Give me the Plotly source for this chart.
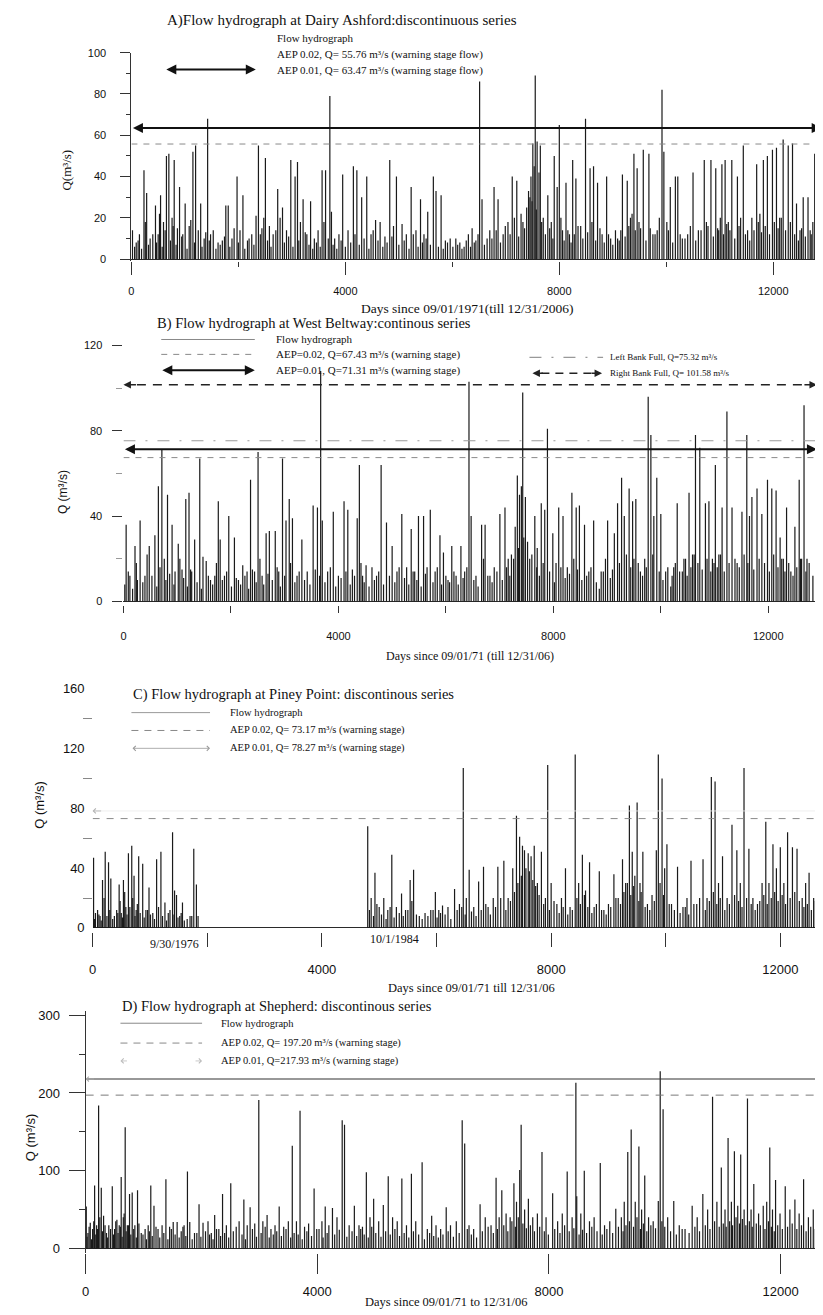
import plotly.graph_objects as go

W, H = 823, 1315
OFF = 8                       # default page margin of the html body
FW, FH = W - OFF, H - OFF     # figure size so that the page fits the window
RECORD_END = 12905            # days from 09/01/1971 to 12/31/2006

# ---------------- data (peak flows, m3/s) ----------------
A_day = [20, 90, 150, 235, 285, 350, 450, 500, 545, 600, 655, 700, 760, 800, 860, 900, 960, 1005,
         1080, 1150, 1200, 1250, 1295, 1360, 1425, 1480, 1530, 1620, 1700, 1765, 1810, 1880, 1975,
         2030, 2085, 2170, 2250, 2330, 2375, 2440, 2505, 2580, 2650, 2735, 2780, 2825, 2900, 2980,
         3060, 3105, 3160, 3210, 3280, 3350, 3420, 3490, 3565, 3630, 3710, 3740, 3800, 3880, 3950,
         4050, 4150, 4215, 4305, 4400, 4480, 4565, 4650, 4740, 4830, 4900, 4955, 5060, 5140, 5230,
         5320, 5405, 5470, 5540, 5645, 5695, 5790, 5870, 5960, 6065, 6140, 6220, 6300, 6370, 6440,
         6510, 6555, 6650, 6700, 6780, 6855, 6950, 7040, 7120, 7205, 7285, 7350, 7425, 7470, 7505,
         7530, 7550, 7585, 7620, 7645, 7700, 7785, 7850, 7905, 7960, 8000, 8060, 8125, 8190, 8250,
         8310, 8400, 8490, 8575, 8640, 8715, 8800, 8885, 8960, 9050, 9120, 9180, 9270, 9330, 9395,
         9455, 9520, 9570, 9675, 9750, 9830, 9920, 9955, 10010, 10075, 10170, 10215, 10300, 10400,
         10500, 10600, 10710, 10780, 10835, 10925, 10980, 11040, 11100, 11160, 11225, 11330, 11390,
         11440, 11520, 11600, 11690, 11750, 11815, 11890, 11985, 12060, 12120, 12185, 12280, 12360,
         12435, 12500, 12560, 12650, 12710, 12775, 12870]
A_q = [14, 8, 12, 43, 32, 10, 26, 12, 31, 18, 50, 51, 20, 48, 15, 35, 12, 27,
       16, 52, 55, 14, 27, 10, 68, 12, 14, 8, 9, 26, 26, 10, 40,
       14, 31, 9, 12, 21, 55, 15, 49, 16, 12, 34, 20, 25, 14, 48,
       40, 47, 18, 29, 12, 28, 10, 14, 43, 43, 79, 23, 10, 12, 41,
       14, 45, 43, 30, 40, 12, 19, 18, 11, 48, 16, 40, 17, 12, 35,
       14, 29, 12, 23, 40, 33, 31, 9, 10, 10, 8, 6, 12, 15, 9,
       86, 29, 10, 14, 35, 29, 12, 18, 40, 38, 22, 15, 33, 40, 56,
       45, 89, 57, 42, 55, 20, 31, 18, 50, 35, 65, 14, 37, 12, 48,
       39, 16, 68, 44, 45, 37, 12, 40, 10, 14, 9, 41, 38, 20, 51,
       44, 15, 53, 51, 12, 14, 82, 52, 18, 35, 40, 40, 10, 12,
       42, 14, 48, 16, 48, 44, 14, 46, 48, 18, 48, 40, 20,
       55, 14, 20, 46, 22, 48, 50, 53, 54, 20, 58, 55, 56,
       27, 14, 30, 30, 12, 51, 52]
A_minor_day = [60, 125, 190, 260, 320, 400, 470, 525, 575, 630,
               730, 780, 835, 940, 1040, 1110, 1180, 1320, 1390, 1455,
               1580, 1660, 1740, 1840, 1920, 2000, 2120, 2200, 2290, 2410,
               2475, 2545, 2610, 2700, 2860, 2940, 3020, 3130, 3250, 3320,
               3390, 3460, 3530, 3600, 3680, 3770, 3840, 3920, 4000, 4100,
               4180, 4260, 4350, 4440, 4520, 4610, 4700, 4780, 4870, 5000,
               5100, 5190, 5270, 5360, 5440, 5510, 5590, 5740, 5830, 5910,
               6010, 6100, 6180, 6260, 6340, 6410, 6480, 6600, 6740, 6820,
               6900, 6990, 7080, 7160, 7240, 7320, 7390, 7450, 7490, 7570,
               7670, 7740, 7820, 7880, 8030, 8090, 8160, 8220, 8280, 8350,
               8440, 8530, 8610, 8680, 8760, 8840, 8920, 9000, 9090, 9150,
               9230, 9300, 9360, 9420, 9490, 9620, 9700, 9790, 9870, 10040,
               10120, 10260, 10350, 10450, 10550, 10650, 10750, 10880, 10960, 11010,
               11070, 11130, 11190, 11280, 11360, 11480, 11560, 11640, 11720, 11780,
               11850, 11930, 12020, 12090, 12150, 12230, 12320, 12400, 12470, 12530,
               12600, 12690, 12740, 12820, 12890]
A_minor_q = [6, 9, 5, 18, 7, 12, 8, 22, 6, 14,
             9, 16, 7, 11, 5, 19, 8, 6, 13, 9,
             5, 7, 11, 6, 15, 8, 5, 10, 7, 12,
             20, 9, 6, 14, 8, 11, 6, 9, 13, 7,
             5, 8, 6, 18, 10, 7, 5, 9, 6, 8,
             12, 7, 10, 5, 14, 9, 6, 8, 11, 7,
             9, 5, 12, 6, 8, 10, 7, 6, 5, 8,
             6, 7, 5, 9, 6, 8, 12, 7, 10, 14,
             8, 16, 12, 20, 11, 18, 25, 30, 28, 24,
             18, 12, 15, 10, 20, 9, 14, 8, 12, 16,
             10, 13, 18, 9, 15, 8, 12, 7, 10, 14,
             11, 16, 22, 14, 18, 9, 15, 12, 20, 14,
             8, 12, 10, 16, 9, 14, 18, 11, 15, 20,
             12, 17, 14, 10, 16, 12, 9, 14, 18, 13,
             16, 12, 18, 15, 20, 14, 18, 12, 9, 15,
             11, 14, 18, 10, 16]

B_day = [50, 120, 215, 260, 310, 400, 480, 585, 650, 715, 760, 820, 905, 960, 1020, 1090, 1160, 1220,
         1270, 1325, 1420, 1480, 1540, 1620, 1700, 1765, 1800, 1880, 1960, 2065, 2140, 2220, 2300,
         2365, 2440, 2505, 2580, 2655, 2715, 2825, 2890, 2960, 3025, 3085, 3145, 3230, 3320, 3420,
         3530, 3610, 3670, 3700, 3800, 3905, 4000, 4105, 4175, 4260, 4350, 4390, 4450, 4515, 4625,
         4710, 4795, 4895, 5000, 5090, 5180, 5270, 5355, 5420, 5490, 5585, 5650, 5710, 5800, 5890,
         5955, 6040, 6110, 6190, 6280, 6350, 6430, 6470, 6560, 6665, 6730, 6820, 6900, 7005, 7100,
         7160, 7220, 7290, 7330, 7370, 7405, 7430, 7480, 7560, 7655, 7700, 7775, 7840, 7890, 7990,
         8050, 8100, 8180, 8260, 8345, 8425, 8485, 8580, 8660, 8750, 8855, 8930, 9010, 9135, 9195,
         9270, 9320, 9410, 9475, 9535, 9620, 9700, 9765, 9815, 9870, 9925, 10000, 10090, 10185,
         10240, 10305, 10400, 10460, 10525, 10590, 10645, 10725, 10830, 10895, 10960, 11015, 11080,
         11140, 11230, 11325, 11420, 11510, 11600, 11650, 11695, 11790, 11880, 11985, 12065, 12145,
         12220, 12280, 12340, 12420, 12495, 12575, 12620, 12665, 12720]
B_q = [36, 12, 26, 10, 38, 12, 26, 31, 54, 71, 20, 50, 36, 14, 27, 15, 48, 51,
       14, 29, 67, 21, 19, 10, 12, 47, 29, 12, 40, 30, 10, 17, 14,
       57, 14, 70, 12, 32, 33, 33, 14, 67, 38, 48, 39, 12, 29, 14,
       45, 44, 108, 38, 14, 42, 12, 47, 43, 15, 39, 64, 12, 17, 16,
       12, 64, 37, 26, 14, 41, 16, 34, 14, 40, 40, 16, 43, 14, 31,
       23, 10, 26, 12, 26, 14, 103, 40, 12, 36, 36, 12, 16, 41, 44,
       20, 22, 35, 59, 50, 54, 98, 49, 20, 40, 25, 46, 43, 81, 32,
       18, 44, 40, 16, 51, 44, 45, 36, 14, 38, 6, 14, 38, 32, 46,
       58, 40, 53, 47, 48, 14, 20, 96, 78, 40, 58, 41, 14, 7,
       16, 46, 14, 20, 51, 22, 78, 72, 46, 47, 20, 64, 22,
       44, 89, 44, 18, 42, 78, 40, 49, 53, 41, 57, 53, 52,
       30, 20, 44, 14, 35, 57, 20, 92, 20]
B_minor_day = [25, 90, 170, 240, 360, 440, 530, 620, 680, 790,
               860, 940, 1050, 1120, 1190, 1250, 1370, 1450, 1580, 1660,
               1730, 1840, 1920, 2010, 2100, 2180, 2260, 2330, 2400, 2470,
               2540, 2610, 2690, 2770, 2860, 2920, 3000, 3110, 3190, 3270,
               3370, 3470, 3570, 3650, 3750, 3850, 3950, 4050, 4140, 4220,
               4300, 4420, 4480, 4570, 4670, 4750, 4840, 4950, 5050, 5130,
               5230, 5310, 5390, 5460, 5540, 5620, 5760, 5840, 5920, 6000,
               6070, 6150, 6230, 6320, 6390, 6520, 6600, 6700, 6780, 6860,
               6950, 7050, 7130, 7190, 7260, 7350, 7450, 7520, 7600, 7690,
               7740, 7810, 7930, 8020, 8140, 8220, 8300, 8380, 8450, 8530,
               8620, 8700, 8800, 8890, 8970, 9060, 9100, 9230, 9360, 9440,
               9500, 9580, 9660, 9730, 9850, 9970, 10040, 10130, 10210, 10270,
               10350, 10430, 10490, 10560, 10620, 10690, 10770, 10860, 10930, 10990,
               11050, 11110, 11180, 11270, 11380, 11460, 11550, 11620, 11730, 11830,
               11930, 12020, 12100, 12180, 12250, 12310, 12380, 12460, 12530, 12600,
               12700, 12760, 12830, 12890]
B_minor_q = [8, 14, 6, 18, 9, 22, 12, 7, 16, 10,
             13, 8, 20, 11, 7, 15, 9, 6, 12, 8,
             18, 10, 14, 7, 11, 8, 12, 6, 15, 9,
             20, 8, 13, 10, 16, 7, 12, 18, 9, 14,
             10, 8, 15, 12, 9, 16, 7, 11, 14, 8,
             12, 18, 9, 7, 10, 14, 8, 12, 9, 16,
             11, 8, 14, 10, 7, 13, 9, 16, 8, 12,
             9, 14, 8, 11, 16, 10, 7, 20, 12, 9,
             14, 10, 16, 12, 20, 25, 30, 28, 22, 16,
             12, 18, 14, 9, 16, 11, 13, 20, 15, 10,
             12, 16, 9, 14, 20, 11, 15, 18, 22, 16,
             20, 18, 12, 16, 22, 14, 10, 16, 12, 18,
             14, 20, 12, 16, 22, 18, 15, 20, 14, 18,
             16, 22, 14, 18, 20, 16, 22, 18, 15, 20,
             18, 14, 22, 16, 20, 14, 18, 12, 16, 20,
             14, 18, 12, 16]

C_day = [17, 50, 87, 130, 173, 220, 278, 318, 380, 420, 463, 500, 538, 580, 625, 683, 723, 760, 804,
         874, 930, 984, 1050, 1117, 1192, 1262, 1320, 1395, 1430, 1464, 1520, 1568, 1650, 1700, 1765,
         1811, 1840,
         4800, 4860, 4926, 5000, 5080, 5150, 5220, 5300, 5390, 5460, 5540, 5600, 5700, 5800, 5900,
         5980, 6040, 6105, 6200, 6315, 6400, 6467, 6520, 6570, 6650, 6735, 6820, 6900, 6990, 7070,
         7175, 7250, 7330, 7395, 7450, 7500, 7535, 7600, 7650, 7705, 7760, 7830, 7900, 7940, 8000,
         8100, 8180, 8250, 8330, 8420, 8480, 8545, 8600, 8670, 8750, 8840, 8920, 9000, 9095, 9170,
         9245, 9300, 9365, 9415, 9460, 9500, 9550, 9600, 9680, 9760, 9835, 9870, 9935, 9980, 10020,
         10100, 10205, 10300, 10370, 10440, 10540, 10650, 10720, 10795, 10860, 10920, 10990, 11070,
         11155, 11240, 11300, 11365, 11450, 11520, 11600, 11680, 11745, 11800, 11870, 11930, 11998,
         12060, 12125, 12210, 12290, 12380, 12440, 12500, 12580, 12647, 12710]
C_q = [47, 10, 12, 8, 32, 51, 44, 33, 8, 12, 29, 10, 32, 14, 50, 55, 35, 12, 48,
       43, 12, 27, 10, 46, 51, 17, 10, 64, 25, 22, 8, 17, 6, 8, 53,
       29, 8,
       68, 20, 37, 14, 20, 12, 49, 14, 23, 12, 32, 39, 8, 10, 12,
       24, 12, 15, 14, 26, 16, 107, 20, 39, 14, 31, 41, 14, 20, 41,
       45, 20, 40, 75, 61, 55, 52, 50, 48, 55, 30, 51, 20, 109, 30,
       16, 20, 40, 14, 116, 30, 49, 25, 44, 14, 38, 12, 16, 36, 20,
       46, 30, 82, 51, 35, 84, 30, 51, 16, 22, 52, 116, 100, 40, 56,
       16, 41, 14, 20, 45, 16, 46, 20, 101, 98, 30, 48, 20,
       69, 52, 30, 107, 53, 20, 16, 30, 71, 30, 56, 40, 54,
       30, 64, 54, 53, 20, 30, 37, 20, 52, 25]
C_minor_day = [35, 110, 150, 200, 250, 300, 350, 440, 480, 520,
               560, 600, 650, 700, 740, 780, 830, 900, 960, 1010,
               1080, 1150, 1220, 1290, 1350, 1420, 1490, 1545, 1600, 1730,
               4830, 4900, 4960, 5040, 5120, 5190, 5260, 5350, 5420, 5500,
               5570, 5650, 5750, 5850, 5940, 6010, 6070, 6150, 6250, 6360,
               6440, 6500, 6610, 6690, 6780, 6860, 6940, 7030, 7120, 7210,
               7290, 7360, 7420, 7480, 7560, 7620, 7680, 7730, 7790, 7870,
               7970, 8050, 8140, 8210, 8290, 8370, 8450, 8510, 8580, 8640,
               8710, 8790, 8880, 8960, 9040, 9130, 9210, 9270, 9330, 9390,
               9440, 9530, 9570, 9640, 9720, 9800, 9900, 9960, 10060, 10150,
               10250, 10340, 10400, 10490, 10590, 10690, 10760, 10830, 10890, 10950,
               11030, 11110, 11200, 11270, 11330, 11410, 11490, 11560, 11640, 11710,
               11770, 11840, 11900, 11960, 12030, 12090, 12170, 12250, 12330, 12410,
               12470, 12540, 12610, 12680, 12730]
C_minor_q = [6, 9, 5, 20, 8, 12, 6, 10, 18, 7,
             24, 9, 14, 20, 8, 16, 10, 7, 12, 9,
             6, 14, 8, 5, 12, 9, 7, 10, 5, 8,
             12, 8, 16, 9, 6, 14, 7, 10, 8, 12,
             18, 9, 6, 8, 12, 7, 10, 9, 6, 12,
             14, 9, 11, 8, 12, 16, 9, 14, 20, 12,
             18, 24, 30, 35, 40, 38, 32, 28, 22, 16,
             12, 18, 10, 14, 9, 12, 20, 16, 22, 14,
             10, 16, 12, 9, 14, 20, 16, 24, 30, 22,
             28, 18, 24, 14, 12, 18, 30, 22, 16, 12,
             10, 14, 9, 16, 20, 12, 18, 24, 16, 20,
             12, 16, 22, 18, 14, 20, 16, 12, 18, 22,
             16, 20, 24, 18, 22, 16, 20, 24, 18, 14,
             16, 12, 18, 14, 20]

D_day = [11, 40, 80, 120, 155, 190, 224, 270, 310, 360, 400, 460, 500, 540, 580, 614, 650, 683, 720,
         758, 804, 850, 896, 960, 1027, 1080, 1125, 1180, 1250, 1320, 1386, 1450, 1512, 1580, 1650,
         1700, 1758, 1798, 1880, 1958, 2027, 2113, 2170, 2228, 2300, 2364, 2430, 2506, 2600, 2650,
         2732, 2790, 2840, 2920, 2990, 3060, 3133, 3200, 3270, 3342, 3420, 3500, 3568, 3640, 3702,
         3780, 3850, 3945, 4030, 4080, 4137, 4200, 4262, 4340, 4430, 4470, 4550, 4640, 4720, 4780,
         4847, 4910, 4973, 5060, 5140, 5225, 5300, 5380, 5460, 5540, 5625, 5700, 5810, 5900, 5975,
         6050, 6130, 6226, 6300, 6400, 6502, 6545, 6620, 6700, 6811, 6900, 7000, 7087, 7140, 7186,
         7260, 7330, 7395, 7440, 7495, 7520, 7580, 7645, 7720, 7800, 7880, 7950, 8064, 8150, 8230,
         8315, 8400, 8465, 8480, 8550, 8610, 8700, 8780, 8886, 8960, 9050, 9154, 9250, 9300, 9361,
         9420, 9490, 9553, 9600, 9654, 9720, 9800, 9888, 9921, 9971, 10050, 10155, 10250, 10350,
         10473, 10560, 10657, 10740, 10825, 10900, 10976, 11040, 11093, 11150, 11202, 11260, 11311,
         11370, 11428, 11490, 11537, 11620, 11700, 11760, 11813, 11860, 11913, 11990, 12080, 12160,
         12247, 12320, 12397, 12480, 12564, 12640, 12706]
D_q = [54, 20, 33, 25, 81, 30, 184, 78, 42, 20, 30, 80, 25, 37, 30, 92, 40, 156, 30,
       70, 72, 30, 75, 20, 25, 30, 81, 55, 25, 30, 89, 28, 34, 34, 22,
       30, 99, 34, 20, 57, 33, 35, 20, 43, 25, 70, 30, 84, 28, 35,
       63, 30, 53, 32, 191, 35, 43, 25, 30, 54, 28, 35, 132, 35, 177,
       28, 32, 77, 25, 35, 54, 30, 52, 40, 165, 159, 30, 55, 30, 28,
       98, 40, 64, 35, 56, 93, 40, 35, 90, 30, 96, 35, 111, 25, 42,
       30, 25, 53, 30, 35, 165, 135, 30, 25, 57, 40, 30, 91, 40, 75,
       45, 40, 84, 60, 101, 159, 50, 64, 40, 45, 124, 40, 71, 35, 45,
       99, 40, 213, 67, 45, 100, 35, 40, 110, 30, 35, 51, 40, 60, 124,
       153, 60, 131, 50, 94, 40, 35, 61, 228, 179, 40, 61, 30, 25,
       55, 40, 70, 50, 195, 60, 104, 50, 142, 60, 125, 55, 121,
       50, 193, 50, 83, 45, 55, 60, 130, 50, 88, 45, 80, 50,
       63, 45, 89, 40, 50, 35, 55]
D_minor_day = [25, 60, 100, 140, 175, 205, 245, 290, 335, 380,
               430, 480, 520, 560, 600, 630, 665, 700, 740, 780,
               830, 875, 920, 990, 1050, 1100, 1150, 1215, 1280, 1350,
               1420, 1480, 1545, 1615, 1680, 1730, 1840, 1920, 1990, 2070,
               2140, 2200, 2260, 2330, 2400, 2470, 2550, 2700, 2760, 2880,
               2950, 3030, 3100, 3170, 3240, 3300, 3380, 3460, 3540, 3600,
               3670, 3740, 3820, 3900, 3990, 4100, 4170, 4300, 4380, 4510,
               4600, 4680, 4750, 4810, 4880, 4940, 5010, 5100, 5180, 5260,
               5340, 5420, 5500, 5580, 5660, 5750, 5850, 5940, 6010, 6090,
               6170, 6260, 6350, 6450, 6590, 6660, 6750, 6850, 6950, 7040,
               7110, 7220, 7290, 7360, 7420, 7470, 7550, 7610, 7680, 7750,
               7840, 7920, 7990, 8100, 8190, 8270, 8350, 8430, 8520, 8580,
               8650, 8740, 8830, 8920, 9000, 9100, 9200, 9280, 9330, 9390,
               9460, 9520, 9580, 9630, 9690, 9760, 9840, 9950, 10000, 10100,
               10200, 10300, 10420, 10520, 10600, 10700, 10780, 10860, 10940, 11010,
               11060, 11120, 11170, 11230, 11290, 11340, 11400, 11460, 11510, 11580,
               11650, 11730, 11790, 11840, 11890, 11950, 12030, 12120, 12200, 12280,
               12360, 12440, 12520, 12600, 12680]
D_minor_q = [15, 28, 12, 35, 18, 25, 40, 22, 30, 14,
             25, 18, 35, 20, 28, 15, 45, 22, 30, 18,
             25, 14, 32, 18, 12, 22, 16, 28, 14, 20,
             12, 25, 18, 14, 28, 16, 12, 20, 15, 22,
             18, 12, 25, 16, 20, 14, 22, 18, 12, 25,
             15, 20, 28, 14, 18, 22, 16, 25, 14, 20,
             18, 12, 22, 16, 25, 14, 20, 18, 24, 15,
             22, 16, 25, 18, 14, 28, 20, 15, 22, 18,
             25, 16, 20, 14, 22, 18, 12, 20, 16, 14,
             18, 22, 15, 20, 25, 18, 14, 22, 28, 20,
             25, 30, 22, 35, 28, 40, 32, 26, 30, 22,
             28, 22, 18, 25, 20, 30, 22, 26, 18, 24,
             20, 28, 22, 18, 25, 20, 28, 22, 30, 35,
             28, 40, 25, 32, 22, 30, 26, 35, 28, 22,
             18, 25, 20, 28, 22, 30, 25, 35, 28, 32,
             28, 35, 30, 40, 32, 38, 30, 35, 28, 32,
             30, 25, 35, 28, 22, 30, 25, 28, 32, 25,
             30, 22, 28, 25, 20]

A_aep02, A_aep01 = 55.76, 63.47
B_aep02, B_aep01, B_left, B_right = 67.43, 71.31, 75.32, 101.58
C_aep02, C_aep01 = 73.17, 78.27
D_aep02, D_aep01 = 197.20, 217.93

SERIF = "Liberation Serif"
SANS = "Liberation Sans"


def fx(p):
    return (p - OFF) / FW


def fy(p):
    return 1 - (p - OFF) / FH


def spikes(days, qs):
    xs, ys = [], []
    for d, q in zip(days, qs):
        xs += [d, d, None]
        ys += [0, q, None]
    return xs, ys


fig = go.Figure()
panels = [(A_day + A_minor_day, A_q + A_minor_q, ""),
          (B_day + B_minor_day, B_q + B_minor_q, "2"),
          (C_day + C_minor_day, C_q + C_minor_q, "3"),
          (D_day + D_minor_day, D_q + D_minor_q, "4")]
for (days, qs, ax) in panels:
    xs, ys = spikes(days, qs)
    fig.add_trace(go.Scatter(x=xs, y=ys, mode="lines", line=dict(color="#1a1a1a", width=1.2),
                             xaxis="x" + ax, yaxis="y" + ax, hoverinfo="skip", showlegend=False))

shapes = []
ann = []


def txt(x, y, s, size, family=SERIF, xanchor="left", angle=0, color="#111"):
    ann.append(dict(x=fx(x), y=fy(y), xref="paper", yref="paper", text=s, showarrow=False,
                    xanchor=xanchor, yanchor="middle", textangle=angle,
                    font=dict(family=family, size=size, color=color)))


def hline(ax, val, color, width, dash, x0=0, x1=RECORD_END):
    shapes.append(dict(type="line", xref="x" + ax, yref="y" + ax, x0=x0, x1=x1, y0=val, y1=val,
                       line=dict(color=color, width=width, dash=dash)))


def darrow(ax, val, color, width, head=2, size=1.0):
    xr = "x" + ax if ax else "x"
    yr = "y" + ax if ax else "y"
    ann.append(dict(x=RECORD_END, y=val, ax=0, ay=val, xref=xr, yref=yr, axref=xr, ayref=yr,
                    text="", showarrow=True, arrowside="end+start", arrowhead=head,
                    startarrowhead=head, arrowsize=size, startarrowsize=size,
                    arrowwidth=width, arrowcolor=color))


def head_at(xref, yref, x, y, dx, color, width, head=2, size=1.0):
    ann.append(dict(x=x, y=y, ax=dx, ay=0, xref=xref, yref=yref, axref="pixel", ayref="pixel",
                    text="", showarrow=True, arrowhead=head, arrowsize=size,
                    arrowwidth=width, arrowcolor=color))


def seg(x0, x1, y, color, width, dash="solid"):
    shapes.append(dict(type="line", xref="paper", yref="paper", x0=fx(x0), x1=fx(x1),
                       y0=fy(y), y1=fy(y), line=dict(color=color, width=width, dash=dash)))


def sample_arrow(x0, x1, y, color, width, head=2, size=1.0):
    ann.append(dict(x=fx(x1), y=fy(y), ax=-(x1 - x0), ay=0, xref="paper", yref="paper",
                    axref="pixel", ayref="pixel", text="", showarrow=True,
                    arrowside="end+start", arrowhead=head, startarrowhead=head,
                    arrowsize=size, startarrowsize=size, arrowwidth=width, arrowcolor=color))


# ---------------- Panel A ----------------
hline("", A_aep02, "#8a8a8a", 1, "6px,6px")
darrow("", A_aep01, "#111", 2.0)
txt(162, 15, "A)Flow hydrograph at Dairy Ashford:discontinuous series", 15)
txt(272, 32, "Flow hydrograph", 11)
txt(272, 49, f"AEP 0.02, Q= {A_aep02:.2f} m³/s (warning stage flow)", 11)
txt(272, 65, f"AEP 0.01, Q= {A_aep01:.2f} m³/s (warning stage flow)", 11)
sample_arrow(162, 253, 64, "#111", 2.0)
txt(466, 305, "Days since 09/01/1971(till 12/31/2006)", 13.5, xanchor="center")
txt(63, 165, "Q(m³/s)", 13, xanchor="center", angle=-90)

# ---------------- Panel B ----------------
hline("2", B_aep02, "#8a8a8a", 1, "6px,6px")
hline("2", B_left, "#9a9a9a", 1.2, "12px,10px,2px,10px")
darrow("2", B_aep01, "#111", 2.0)
hline("2", B_right, "#222", 1.5, "9px,7px", x0=250, x1=RECORD_END - 250)
head_at("x2", "y2", 0, B_right, 14, "#222", 1.5)
head_at("x2", "y2", RECORD_END, B_right, -14, "#222", 1.5)
txt(152, 320, "B) Flow hydrograph at West Beltway:continous series", 14.5)
seg(158, 252, 336, "#888", 1)
txt(271, 336, "Flow hydrograph", 11)
seg(158, 252, 351, "#888", 1, "6px,6px")
txt(271, 351, f"AEP=0.02, Q={B_aep02:.2f} m³/s (warning stage)", 11)
sample_arrow(158, 252, 367, "#111", 2.0)
txt(271, 367, f"AEP=0.01, Q={B_aep01:.2f} m³/s (warning stage)", 11)
seg(528, 602, 354, "#999", 1.2, "12px,10px,2px,10px")
txt(607, 354, f"Left Bank Full, Q={B_left:.2f} m³/s", 9)
seg(540, 592, 370, "#222", 1.5, "8px,6px")
head_at("paper", "paper", fx(531), fy(370), 12, "#222", 1.5)
head_at("paper", "paper", fx(601), fy(370), -12, "#222", 1.5)
txt(607, 370, f"Right Bank Full, Q= {B_right:.2f} m³/s", 9)
txt(468, 655, "Days since 09/01/71 (till 12/31/06)", 12, xanchor="center")
txt(60, 490, "Q (m³/s)", 12, family=SANS, xanchor="center", angle=-90)

# ---------------- Panel C ----------------
hline("3", C_aep02, "#8a8a8a", 1, "7px,7px")
hline("3", C_aep01, "#ececec", 0.8, "solid")
head_at("x3", "y3", 0, C_aep01, 10, "#b0b0b0", 0.8, head=4, size=1.2)
txt(128, 694, "C) Flow hydrograph at Piney Point: discontinous series", 14.5)
seg(128, 207, 712, "#999", 1)
txt(225, 712, "Flow hydrograph", 10.5)
seg(128, 207, 730, "#888", 1, "7px,6px")
txt(225, 730, f"AEP 0.02, Q= {C_aep02:.2f} m³/s (warning stage)", 10.5)
sample_arrow(128, 207, 748, "#999", 0.8, head=4, size=1.2)
txt(225, 748, f"AEP 0.01, Q= {C_aep01:.2f} m³/s (warning stage)", 10.5)
txt(171, 945, "9/30/1976", 12, xanchor="center")
txt(392, 940, "10/1/1984", 12, xanchor="center")
txt(470, 990, "Days since 09/01/71 till 12/31/06", 12.5, xanchor="center")
txt(36, 805, "Q (m³/s)", 13, family=SANS, xanchor="center", angle=-90)

# ---------------- Panel D ----------------
hline("4", D_aep02, "#7a7a7a", 1, "8px,7px")
hline("4", D_aep01, "#333", 1.1, "solid")
head_at("x4", "y4", 0, D_aep01, 10, "#aaa", 0.8, head=4, size=1.2)
txt(117, 1008, "D) Flow hydrograph at Shepherd: discontinous series", 14.5)
seg(117, 199, 1025, "#888", 1)
txt(216, 1025, "Flow hydrograph", 10.5)
seg(117, 199, 1045, "#888", 1, "7px,6px")
txt(216, 1045, f"AEP 0.02, Q= {D_aep02:.2f} m³/s (warning stage)", 10.5)
head_at("paper", "paper", fx(117), fy(1063), 8, "#bbb", 0.8, head=4, size=1.2)
head_at("paper", "paper", fx(199), fy(1063), -8, "#bbb", 0.8, head=4, size=1.2)
txt(216, 1063, f"AEP 0.01, Q={D_aep01:.2f} m³/s (warning stage)", 10.5)
txt(445, 1306, "Days since 09/01/71 to 12/31/06", 12.5, xanchor="center")
txt(26, 1140, "Q (m³/s)", 13, family=SANS, xanchor="center", angle=-90)

# ---------------- axes ----------------
AX = "#333"


def xax(left, rng, anchor, tickvals, ticktext, ticklen, standoff, fsize, minor=None):
    d = dict(domain=[fx(left), 1], range=rng, anchor=anchor, showgrid=False, zeroline=False,
             showline=False, tickmode="array", tickvals=tickvals, ticktext=ticktext,
             ticks="outside", ticklen=ticklen, tickcolor=AX, tickwidth=1,
             ticklabelstandoff=standoff, tickfont=dict(family=SANS, size=fsize, color="#111"))
    if minor:
        d["minor"] = minor
    return d


def yax(bottom, top, rng, anchor, tickvals, ticks, ticklen, standoff, fsize, showline, minor=None):
    d = dict(domain=[fy(bottom), fy(top)], range=rng, anchor=anchor, showgrid=False,
             zeroline=True, zerolinecolor="#2a2a2a", zerolinewidth=1.3,
             showline=showline, linecolor=AX, linewidth=1,
             tickmode="array", tickvals=tickvals, ticks=ticks, ticklen=ticklen,
             tickcolor=AX, tickwidth=1, ticklabelstandoff=standoff,
             tickfont=dict(family=SANS, size=fsize, color="#111"))
    if minor:
        d["minor"] = minor
    return d


fig.update_layout(
    width=FW, height=FH, autosize=False, margin=dict(l=0, r=0, t=0, b=0),
    paper_bgcolor="white", plot_bgcolor="white", showlegend=False,
    shapes=shapes, annotations=ann,
    xaxis=xax(128, [0, 12930], "y", [0, 4000, 8000, 12000], ["0", "4000", "8000", "12000"], 13, 7, 11,
              minor=dict(tickmode="array", tickvals=[2000, 6000, 10000], ticks="outside",
                         ticklen=5, tickcolor=AX)),
    yaxis=yax(257.1, 47, [-1, 100], "x", [0, 20, 40, 60, 80, 100], "outside", 10, 12, 11, True,
              minor=dict(tickmode="array", tickvals=[10, 30, 50, 70, 90], ticks="outside",
                         ticklen=4, tickcolor=AX)),
    xaxis2=xax(120, [0, 13018], "y2", [0, 2000, 4000, 6000, 8000, 10000, 12000],
               ["0", "", "4000", "", "8000", "", "12000"], 7, 14, 11),
    yaxis2=yax(603.2, 331.25, [-1.5, 125], "x2", [0, 40, 80, 120], "outside", 10, 8, 11, False,
               minor=dict(tickmode="array", tickvals=[20, 60, 100], ticks="outside",
                          ticklen=6, tickcolor="#999")),
    xaxis3=xax(89, [0, 12743], "y3", [0, 2000, 4000, 6000, 8000, 10000, 12000],
               ["0", "", "4000", "", "8000", "", "12000"], 14, 11, 13),
    yaxis3=yax(933.5, 680.5, [-3, 165], "x3", [0, 40, 80, 120, 160], "", 0, 7, 13, False,
               minor=dict(tickmode="array", tickvals=[20, 60, 100, 140], ticks="outside",
                          ticklen=9, tickcolor="#888")),
    xaxis4=xax(82, [0, 12732], "y4", [0, 4000, 8000, 12000], ["0", "4000", "8000", "12000"], 20, 6, 13),
    yaxis4=yax(1257, 1013, [-6.4, 305], "x4", [0, 100, 200, 300], "outside", 16, 6, 13, True,
               minor=dict(tickmode="array", tickvals=[50, 150, 250], ticks="outside",
                          ticklen=6, tickcolor=AX)),
)

fig.write_html("out.html")
